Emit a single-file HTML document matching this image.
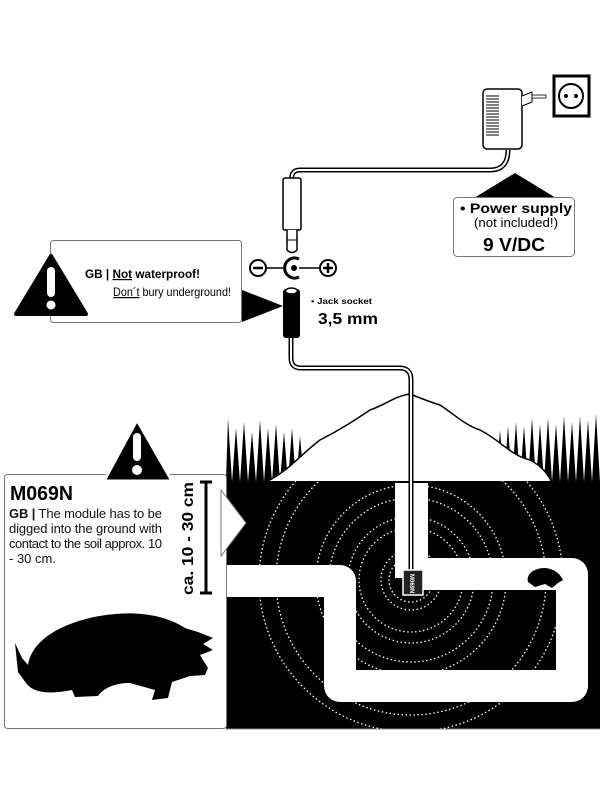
<!DOCTYPE html>
<html><head><meta charset="utf-8"><style>
html,body{margin:0;padding:0;background:#fff;}
svg{display:block;}
text{font-family:"Liberation Sans","DejaVu Sans",sans-serif;}
</style></head><body>
<svg width="600" height="800" viewBox="0 0 600 800" xmlns="http://www.w3.org/2000/svg">
<defs>
<clipPath id="g"><rect x="226" y="481" width="374" height="248"/></clipPath>
</defs>
<!-- grass -->
<path d="M226,482 L228,418 L232,482 L236,428 L240,482 L244,422 L248,482 L252,432 L256,482 L260,420 L264,482 L268,428 L272,482 L276,424 L280,482 L284,432 L288,482 L292,428 L296,482 L300,436 L304,482 Z" fill="#000"/>
<path d="M496,482 L500,430 L504,482 L508,426 L512,482 L516,422 L520,482 L524,426 L528,482 L532,418 L536,482 L540,424 L544,482 L548,418 L552,482 L556,424 L560,482 L564,416 L568,482 L572,422 L576,482 L580,416 L584,482 L588,420 L592,482 L596,414 L600,482 Z" fill="#000"/>
<!-- mound -->
<path d="M266,482 C290,470 300,455 320,440 C340,430 355,420 370,410 C385,405 395,396 410,394 C420,398 430,402 440,405 C455,415 465,425 480,430 C500,440 510,455 530,460 C545,468 548,476 552,482 Z" fill="#fff" stroke="#000" stroke-width="1.5"/>
<!-- ground -->
<rect x="226" y="481" width="374" height="248" fill="#000"/>
<line x1="226" y1="729" x2="600" y2="729" stroke="#888" stroke-width="1"/>
<!-- circles -->
<g clip-path="url(#g)" fill="none" stroke="#fff" stroke-width="1.3" stroke-dasharray="1.5 2.5">
<circle cx="411" cy="580" r="22"/><circle cx="411" cy="580" r="30"/>
<circle cx="411" cy="580" r="52"/><circle cx="411" cy="580" r="63"/>
<circle cx="411" cy="580" r="82"/><circle cx="411" cy="580" r="95"/>
<circle cx="411" cy="580" r="135"/><circle cx="411" cy="580" r="152"/>
</g>
<!-- tunnel -->
<path d="M226,581 H340 V686 H572 V574 H412" fill="none" stroke="#fff" stroke-width="32" stroke-linejoin="round"/>
<rect x="395" y="483" width="33" height="95" fill="#fff"/>
<!-- small mole -->
<path d="M528,582 C526,574 534,568 545,568 C555,569 560,574 563,580 L558,583 L552,588 L545,584 L535,587 Z" fill="#000"/>
<!-- cable to module -->
<path d="M291,336 V358 Q291,368 301,368 H400 Q411,368 411,380 V572" fill="none" stroke="#000" stroke-width="5"/>
<path d="M291,336 V358 Q291,368 301,368 H400 Q411,368 411,380 V572" fill="none" stroke="#fff" stroke-width="2"/>
<rect x="403" y="570" width="20" height="25" fill="#222" stroke="#fff" stroke-width="1.5"/>
<text x="0" y="0" transform="translate(410,574) rotate(90)" font-size="6" font-weight="bold" fill="#fff">M069N</text>
<!-- left panel -->
<rect x="4.5" y="474.5" width="222" height="254" rx="3" fill="#fff" stroke="#777"/>
<polygon points="137,420 104,481 172,481" fill="#000" stroke="#fff" stroke-width="3" stroke-linejoin="round"/>
<rect x="133" y="433" width="8" height="28" rx="4" fill="#fff"/>
<circle cx="137" cy="470" r="5" fill="#fff"/>
<text x="10" y="500" font-size="20" font-weight="bold" textLength="63" lengthAdjust="spacingAndGlyphs">M069N</text>
<g font-size="13" fill="#111">
<text x="9" y="518" textLength="153" lengthAdjust="spacing"><tspan font-weight="bold">GB |</tspan> The module has to be</text>
<text x="9" y="533" textLength="153" lengthAdjust="spacing">digged into the ground with</text>
<text x="9" y="548" textLength="153" lengthAdjust="spacing">contact to the soil approx. 10</text>
<text x="9" y="563">- 30 cm.</text>
</g>
<text transform="translate(193,595) rotate(-90)" font-size="16" font-weight="bold" textLength="113" lengthAdjust="spacingAndGlyphs">ca. 10 - 30 cm</text>
<path d="M206,482 V593 M200,482 H212 M200,593 H212" stroke="#000" stroke-width="3"/>
<polygon points="221,490 246,523 221,556" fill="#fff" stroke="#777"/>
<!-- big mole -->
<path d="M28,665 C32,640 60,625 90,618 C125,610 160,612 185,628 L198,632 L213,638 L203,644 L213,650 L200,655 L208,668 L205,675 L190,676 L172,682 L168,698 L152,700 L155,690 L130,683 C112,683 102,690 98,696 L75,697 L72,690 C52,694 34,694 26,683 L18,672 L15,643 L22,658 Z" fill="#000"/>
<!-- top warning -->
<rect x="50.5" y="240.5" width="191" height="82" rx="3" fill="#fff" stroke="#777"/>
<polygon points="51,256 16,314 86,314" fill="#000" stroke="#000" stroke-width="4" stroke-linejoin="round"/>
<rect x="47" y="267" width="8" height="30" rx="4" fill="#fff"/>
<circle cx="51" cy="305" r="4.5" fill="#fff"/>
<text x="85" y="278" font-size="12" font-weight="bold" textLength="115" lengthAdjust="spacingAndGlyphs">GB | <tspan text-decoration="underline">Not</tspan> waterproof!</text>
<text x="113" y="296" font-size="12" textLength="118" lengthAdjust="spacingAndGlyphs"><tspan text-decoration="underline">Don´t</tspan> bury underground!</text>
<polygon points="242,290 283,306 242,322" fill="#000"/>
<!-- plug -->
<path d="M508,150 Q508,170 490,170 H300 Q290,170 292,182" fill="none" stroke="#000" stroke-width="5"/>
<path d="M508,150 Q508,170 490,170 H300 Q290,170 292,182" fill="none" stroke="#fff" stroke-width="2"/>
<rect x="283" y="178" width="18" height="52" rx="2" fill="#fff" stroke="#000" stroke-width="1.5"/>
<path d="M287,230 V250 Q292,255 297,250 V230" fill="#fff" stroke="#000" stroke-width="1.5"/>
<line x1="287" y1="240" x2="297" y2="240" stroke="#000"/>
<!-- polarity -->
<line x1="265" y1="268" x2="320" y2="268" stroke="#000" stroke-width="1.5"/>
<circle cx="258" cy="268" r="8" fill="#fff" stroke="#000" stroke-width="2"/>
<line x1="253" y1="268" x2="263" y2="268" stroke="#000" stroke-width="2.5"/>
<path d="M299,259 A10,10 0 1 0 299,277" fill="#fff" stroke="#000" stroke-width="3"/>
<circle cx="294" cy="268" r="3" fill="#000"/>
<circle cx="328" cy="268" r="8" fill="#fff" stroke="#000" stroke-width="2"/>
<path d="M323,268 H333 M328,263 V273" stroke="#000" stroke-width="2.5"/>
<!-- socket -->
<rect x="283" y="289" width="17" height="49" rx="3" fill="#000"/>
<ellipse cx="291.5" cy="291" rx="6" ry="3" fill="#fff" stroke="#000" stroke-width="1.5"/>
<text x="311" y="304" font-size="8" font-weight="bold" textLength="61" lengthAdjust="spacingAndGlyphs">• Jack socket</text>
<text x="318" y="324" font-size="16" font-weight="bold" textLength="60" lengthAdjust="spacingAndGlyphs">3,5 mm</text>
<!-- adapter -->
<rect x="483" y="89" width="39" height="60" rx="4" fill="#fff" stroke="#000" stroke-width="1.5"/>
<g stroke="#000" stroke-width="1">
<line x1="486" y1="96" x2="499" y2="96"/><line x1="486" y1="99" x2="499" y2="99"/><line x1="486" y1="102" x2="499" y2="102"/><line x1="486" y1="105" x2="499" y2="105"/><line x1="486" y1="108" x2="499" y2="108"/><line x1="486" y1="111" x2="499" y2="111"/><line x1="486" y1="114" x2="499" y2="114"/><line x1="486" y1="117" x2="499" y2="117"/><line x1="486" y1="120" x2="499" y2="120"/><line x1="486" y1="123" x2="499" y2="123"/><line x1="486" y1="126" x2="499" y2="126"/><line x1="486" y1="129" x2="499" y2="129"/><line x1="486" y1="132" x2="499" y2="132"/><line x1="486" y1="135" x2="499" y2="135"/>
</g>
<path d="M522,96 L532,92 L532,102 L522,106" fill="#fff" stroke="#000"/>
<rect x="532" y="95" width="14" height="3" fill="#fff" stroke="#000" stroke-width="0.8"/>
<rect x="554" y="76" width="35" height="40" fill="#fff" stroke="#000" stroke-width="3"/>
<circle cx="571" cy="96" r="12" fill="#fff" stroke="#000" stroke-width="2"/>
<circle cx="566" cy="96" r="2" fill="#000"/><circle cx="576" cy="96" r="2" fill="#000"/>
<!-- power box -->
<polygon points="474,198 515,173 556,198" fill="#000"/>
<rect x="453.5" y="197.5" width="121" height="59" rx="4" fill="#fff" stroke="#777"/>
<text x="460" y="213" font-size="14" font-weight="bold" textLength="112" lengthAdjust="spacingAndGlyphs">• Power supply</text>
<text x="474" y="227" font-size="13" textLength="84" lengthAdjust="spacingAndGlyphs">(not included!)</text>
<text x="483" y="251" font-size="18" font-weight="bold" textLength="62" lengthAdjust="spacingAndGlyphs">9 V/DC</text>
</svg>
</body></html>
